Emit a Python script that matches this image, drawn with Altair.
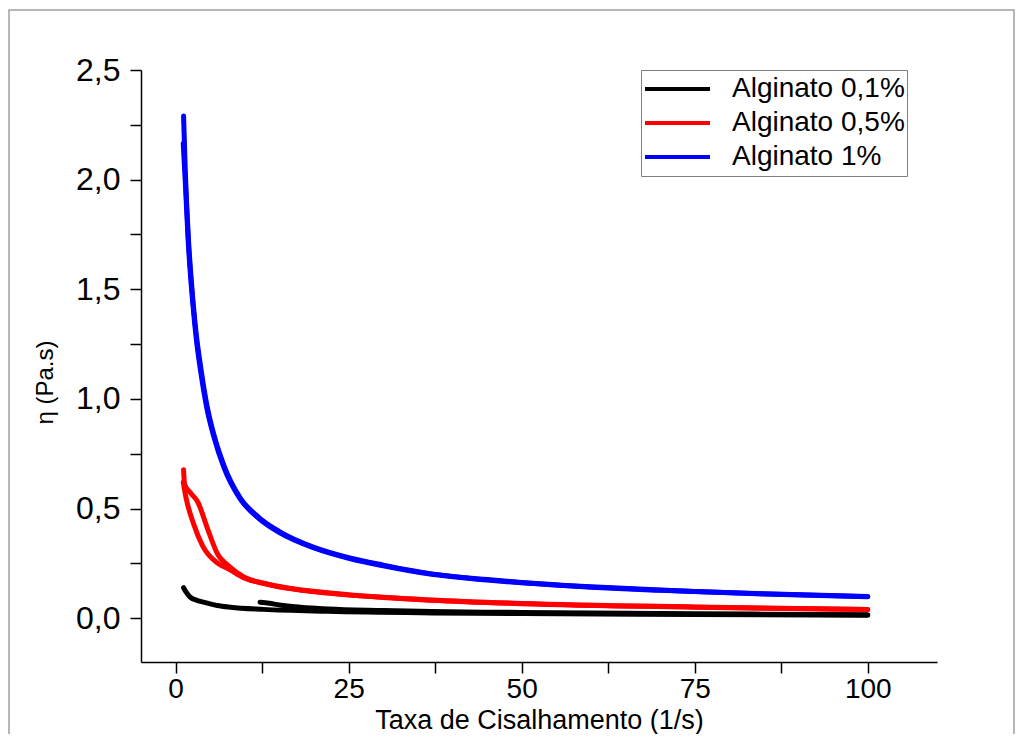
import altair as alt
import pandas as pd

series_names = ["Alginato 0,1%", "Alginato 0,5%", "Alginato 1%"]
series_colors = ["#000000", "#ff0000", "#0000ff"]

x_ticks = [0, 12.5, 25, 37.5, 50, 62.5, 75, 87.5, 100]
y_ticks = [0, 0.25, 0.5, 0.75, 1.0, 1.25, 1.5, 1.75, 2.0, 2.25, 2.5]

# Alginato 0,1% (two branches: ramp up / ramp down)
a01_a_x = [1.15, 1.6, 2.1, 3.0, 4.0, 6.0, 7.9, 12.7, 22, 37, 50, 75, 100]
a01_a_y = [0.139, 0.115, 0.096, 0.082, 0.073, 0.058, 0.050, 0.040, 0.031, 0.024, 0.021, 0.017, 0.013]
a01_b_x = [12.2, 13.5, 15, 18, 22, 30, 37, 50, 75, 100]
a01_b_y = [0.073, 0.068, 0.060, 0.050, 0.042, 0.035, 0.030, 0.026, 0.020, 0.016]

# Alginato 0,5%
a05_a_x = [1.15, 1.3, 2.2, 3.2, 4.7, 6.1, 7.6, 10, 12.7, 16, 22.3, 30, 36.8, 50, 75, 100]
a05_a_y = [0.677, 0.61, 0.57, 0.53, 0.40, 0.29, 0.24, 0.185, 0.160, 0.139, 0.115, 0.095, 0.083, 0.067, 0.051, 0.040]
a05_b_x = [1.1, 1.5, 2.6, 3.9, 6.1, 7.6, 10, 12.7, 16, 22.3, 30, 36.8, 50, 75, 100]
a05_b_y = [0.62, 0.55, 0.43, 0.33, 0.25, 0.225, 0.182, 0.158, 0.137, 0.113, 0.094, 0.082, 0.066, 0.050, 0.039]

# Alginato 1%
a1_a_x = [1.15, 1.4, 1.8, 2.5, 3.0, 3.6, 4.5, 5.5, 7, 9.3, 12, 15, 20, 25, 30, 37, 45, 50, 60, 70, 75, 85, 100]
a1_a_y = [2.29, 2.04, 1.76, 1.45, 1.29, 1.15, 0.975, 0.84, 0.695, 0.55, 0.46, 0.395, 0.323, 0.276, 0.242, 0.202, 0.176, 0.163, 0.143, 0.128, 0.122, 0.1115, 0.099]
a1_b_x = [1.1, 1.4, 1.8, 2.5, 3.0, 3.6, 4.5, 5.5, 7, 9.3, 12, 15, 20, 25, 30, 37, 45, 50, 60, 70, 75, 85, 100]
a1_b_y = [2.165, 1.99, 1.73, 1.43, 1.27, 1.13, 0.96, 0.83, 0.685, 0.545, 0.455, 0.39, 0.32, 0.273, 0.239, 0.2, 0.174, 0.161, 0.141, 0.127, 0.121, 0.11, 0.098]

branches = [
    (series_names[0], "a", a01_a_x, a01_a_y),
    (series_names[0], "b", a01_b_x, a01_b_y),
    (series_names[1], "a", a05_a_x, a05_a_y),
    (series_names[1], "b", a05_b_x, a05_b_y),
    (series_names[2], "a", a1_a_x, a1_a_y),
    (series_names[2], "b", a1_b_x, a1_b_y),
]
rows = []
for s, b, xs, ys in branches:
    for xv, yv in zip(xs, ys):
        rows.append({"series": s, "branch": s + b, "x": xv, "y": yv})
df = pd.DataFrame(rows)

FONT = "Liberation Sans, Arial, sans-serif"

frame = alt.Chart(pd.DataFrame({"k": [0]})).mark_rect(
    fill="white", fillOpacity=0, stroke="#a0a0a0", strokeWidth=1.5, clip=False
).encode(x=alt.value(-132), x2=alt.value(873), y=alt.value(-60), y2=alt.value(720))

lines = alt.Chart(df).mark_line(
    strokeWidth=5, strokeCap="round", strokeJoin="round", interpolate="monotone"
).encode(
    x=alt.X("x:Q", scale=alt.Scale(domain=[-5, 110], nice=False, zero=False),
            axis=alt.Axis(values=x_ticks,
                          labelExpr="datum.value % 25 == 0 ? format(datum.value, 'd') : ''",
                          labelOverlap=False, labelFlush=False,
                          tickSize=11, tickWidth=1.5, tickColor="black",
                          domainColor="black", domainWidth=1.5, grid=False,
                          labelFont=FONT, labelFontSize=28, labelColor="black", labelPadding=2,
                          title="Taxa de Cisalhamento (1/s)", titleFont=FONT, titleFontSize=27,
                          titleFontWeight="normal", titleColor="black",
                          titleBaseline="alphabetic", titleY=66)),
    y=alt.Y("y:Q", scale=alt.Scale(domain=[-0.2, 2.5], nice=False, zero=False),
            axis=alt.Axis(values=y_ticks,
                          labelExpr="datum.value % 0.5 == 0 ? replace(format(datum.value, '.1f'), '.', ',') : ''",
                          labelOverlap=False, labelFlush=False,
                          tickSize=11, tickWidth=1.5, tickColor="black",
                          domainColor="black", domainWidth=1.5, grid=False,
                          labelFont=FONT, labelFontSize=32, labelColor="black", labelPadding=10,
                          title="η (Pa.s)", titleFont=FONT, titleFontSize=24,
                          titleFontWeight="normal", titleColor="black", titlePadding=18,
                          titleY=312)),
    color=alt.Color("series:N", scale=alt.Scale(domain=series_names, range=series_colors),
                    legend=alt.Legend(orient="none", legendX=500, legendY=0, title=None,
                                      symbolType="stroke", symbolSize=4225, symbolStrokeWidth=4,
                                      labelFont=FONT, labelFontSize=28, labelColor="black",
                                      labelOffset=20, labelLimit=400, padding=2,
                                      clipHeight=34, rowPadding=0,
                                      strokeColor="#808080", fillColor="white")),
    detail="branch:N",
)

chart = alt.layer(frame, lines).properties(
    width=796, height=592,
    autosize=alt.AutoSizeParams(type="none"),
    padding={"left": 133, "top": 62, "right": 78, "bottom": 72},
    background="white",
).configure_view(stroke=None)

chart.save("out.html", embed_options={"renderer": "svg", "actions": False})
